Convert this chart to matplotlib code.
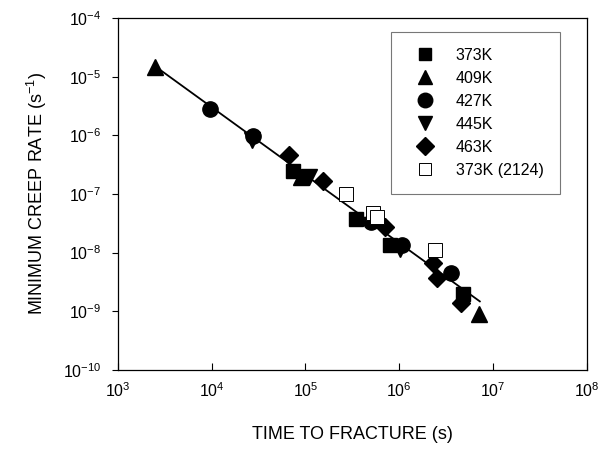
import numpy as np
import matplotlib
matplotlib.use('Agg')
import matplotlib.pyplot as plt

plt.rcParams['font.family'] = ['Liberation Sans', 'DejaVu Sans']
plt.rcParams['mathtext.fontset'] = 'custom'
plt.rcParams['mathtext.rm'] = 'Liberation Sans'
plt.rcParams['mathtext.default'] = 'regular'

# time to fracture (s) and minimum creep rate (1/s)
t_373 = [7.3e4, 3.44e5, 7.9e5, 4.8e6]
r_373 = [2.5e-7, 3.8e-8, 1.36e-8, 2.0e-9]

t_409 = [2.48e3, 8.9e4, 7.1e6]
r_409 = [1.48e-5, 1.95e-7, 9.1e-10]

t_427 = [9.6e3, 2.77e4, 5.0e5, 1.06e6, 3.55e6]
r_427 = [2.8e-6, 9.8e-7, 3.35e-8, 1.36e-8, 4.5e-9]

t_445 = [2.68e4, 1.09e5, 1.01e6]
r_445 = [8.4e-7, 1.95e-7, 1.16e-8]

t_463 = [6.7e4, 1.53e5, 7.0e5, 2.28e6, 2.5e6, 4.6e6]
r_463 = [4.6e-7, 1.63e-7, 2.75e-8, 6.7e-9, 3.7e-9, 1.4e-9]

t_2124 = [2.73e5, 5.24e5, 5.77e5, 2.4e6]
r_2124 = [1.0e-7, 4.8e-8, 4.1e-8, 1.1e-8]

# fitted line end points
fit_t = [2.5e3, 7.24e6]
fit_r = [1.5e-5, 1.47e-9]

fig = plt.figure(figsize=(6.08, 4.51), dpi=100)
ax = fig.add_axes([0.194, 0.180, 0.771, 0.780])

ax.plot(fit_t, fit_r, color='black', linewidth=1.3, zorder=2)

ax.plot(t_373, r_373, 's', color='black', ms=9.5, label='373K', zorder=3)
ax.plot(t_409, r_409, '^', color='black', ms=11, label='409K', zorder=3)
ax.plot(t_427, r_427, 'o', color='black', ms=11, label='427K', zorder=3)
ax.plot(t_445, r_445, 'v', color='black', ms=11, label='445K', zorder=3)
ax.plot(t_463, r_463, 'D', color='black', ms=9.5, label='463K', zorder=3)
ax.plot(t_2124, r_2124, 's', mfc='white', mec='black', mew=0.7, ms=9.5,
        label='373K (2124)', zorder=4)

ax.set_xscale('log')
ax.set_yscale('log')
ax.set_xlim(1e3, 1e8)
ax.set_ylim(1e-10, 1e-4)

xt = [1e3, 1e4, 1e5, 1e6, 1e7, 1e8]
yt = [1e-10, 1e-9, 1e-8, 1e-7, 1e-6, 1e-5, 1e-4]
ax.set_xticks(xt)
ax.set_xticklabels([r'$10^{%d}$' % int(np.log10(v)) for v in xt], fontsize=11.5)
ax.set_yticks(yt)
ax.set_yticklabels([r'$10^{%d}$' % int(round(np.log10(v))) for v in yt], fontsize=11.5)
ax.minorticks_off()
ax.tick_params(axis='x', direction='in', length=5, width=0.8, pad=8)
ax.tick_params(axis='y', direction='out', length=4, width=0.8, pad=8)
for s in ax.spines.values():
    s.set_linewidth(0.9)

ax.set_xlabel('TIME TO FRACTURE (s)', fontsize=13, labelpad=19)
ax.set_ylabel(r'MINIMUM CREEP RATE (s$^{-1}$)', fontsize=13, labelpad=10)

lgd = ax.legend(loc='upper right', bbox_to_anchor=(0.942, 0.960), fontsize=11.5,
                frameon=True, fancybox=False, borderpad=1.0, labelspacing=0.5,
                handlelength=2.3, handletextpad=0.75, markerscale=0.95,
                numpoints=1, borderaxespad=0)
lgd.get_frame().set_edgecolor('#555555')
lgd.get_frame().set_linewidth(0.8)

fig.savefig('out.png', dpi=100)
